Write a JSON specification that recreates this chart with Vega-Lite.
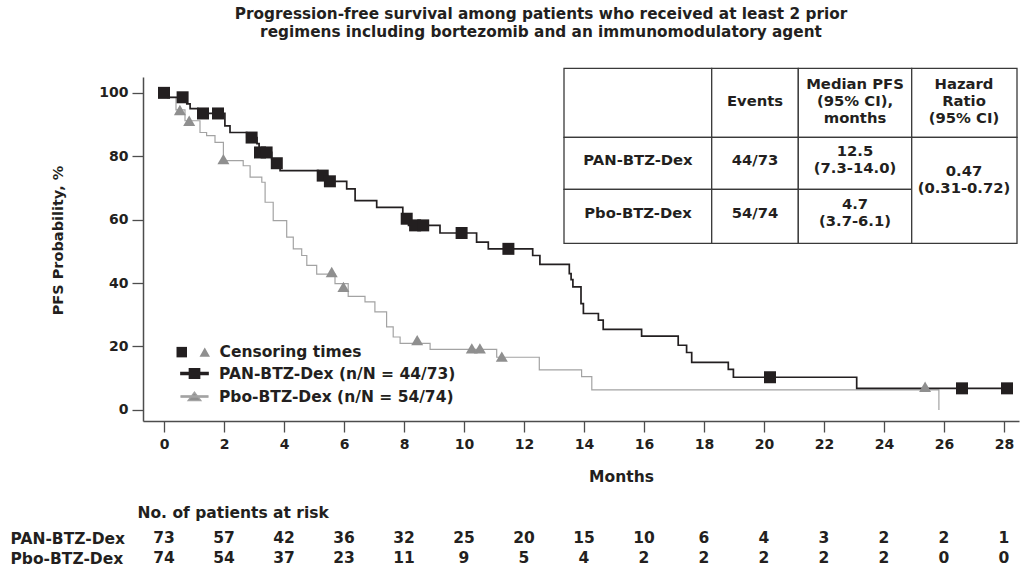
{
  "$schema": "https://vega.github.io/schema/vega-lite/v6.json",
  "width": 876,
  "height": 344,
  "autosize": {"type": "none"},
  "padding": {"left": 143, "top": 77, "right": 1, "bottom": 146},
  "background": "white",
  "config": {
    "view": {"stroke": null},
    "font": "DejaVu Sans",
    "axis": {"domainColor": "#4d4d4d", "tickColor": "#4d4d4d", "domainWidth": 1.5, "tickWidth": 1.3, "labelColor": "#231f20", "titleColor": "#231f20", "labelFontWeight": "bold", "titleFontWeight": "bold", "labelFont": "DejaVu Sans", "titleFont": "DejaVu Sans", "grid": false},
    "legend": {"labelFont": "DejaVu Sans", "labelFontWeight": "bold", "labelColor": "#231f20", "labelFontSize": 15.5, "padding": 0, "labelLimit": 400}
  },
  "title": {
    "text": ["Progression-free survival among patients who received at least 2 prior", "regimens including bortezomib and an immunomodulatory agent"],
    "frame": "group", "anchor": "middle", "dx": -40, "fontSize": 15.3, "fontWeight": "bold", "font": "DejaVu Sans", "color": "#231f20", "lineHeight": 18, "offset": 27
  },
  "datasets": {
    "km": [
      {"arm": "Pbo-BTZ-Dex", "month": 0, "pfs": 100},
      {"arm": "Pbo-BTZ-Dex", "month": 0.13, "pfs": 98.6},
      {"arm": "Pbo-BTZ-Dex", "month": 0.4, "pfs": 94.6},
      {"arm": "Pbo-BTZ-Dex", "month": 0.7, "pfs": 91.2},
      {"arm": "Pbo-BTZ-Dex", "month": 1.2, "pfs": 87.5},
      {"arm": "Pbo-BTZ-Dex", "month": 1.42, "pfs": 86.5},
      {"arm": "Pbo-BTZ-Dex", "month": 1.7, "pfs": 84.4},
      {"arm": "Pbo-BTZ-Dex", "month": 1.98, "pfs": 78.6},
      {"arm": "Pbo-BTZ-Dex", "month": 2.64, "pfs": 77.0},
      {"arm": "Pbo-BTZ-Dex", "month": 2.87, "pfs": 73.4},
      {"arm": "Pbo-BTZ-Dex", "month": 3.26, "pfs": 71.8},
      {"arm": "Pbo-BTZ-Dex", "month": 3.37, "pfs": 65.5},
      {"arm": "Pbo-BTZ-Dex", "month": 3.64, "pfs": 59.7},
      {"arm": "Pbo-BTZ-Dex", "month": 4.09, "pfs": 54.5},
      {"arm": "Pbo-BTZ-Dex", "month": 4.31, "pfs": 50.8},
      {"arm": "Pbo-BTZ-Dex", "month": 4.59, "pfs": 48.7},
      {"arm": "Pbo-BTZ-Dex", "month": 4.76, "pfs": 45.6},
      {"arm": "Pbo-BTZ-Dex", "month": 5.09, "pfs": 42.8},
      {"arm": "Pbo-BTZ-Dex", "month": 5.7, "pfs": 39.8},
      {"arm": "Pbo-BTZ-Dex", "month": 6.14, "pfs": 35.8},
      {"arm": "Pbo-BTZ-Dex", "month": 6.7, "pfs": 34.1},
      {"arm": "Pbo-BTZ-Dex", "month": 7.03, "pfs": 30.9},
      {"arm": "Pbo-BTZ-Dex", "month": 7.42, "pfs": 26.2},
      {"arm": "Pbo-BTZ-Dex", "month": 7.64, "pfs": 23.0},
      {"arm": "Pbo-BTZ-Dex", "month": 7.87, "pfs": 21.0},
      {"arm": "Pbo-BTZ-Dex", "month": 8.87, "pfs": 19.1},
      {"arm": "Pbo-BTZ-Dex", "month": 11.09, "pfs": 16.6},
      {"arm": "Pbo-BTZ-Dex", "month": 12.51, "pfs": 12.6},
      {"arm": "Pbo-BTZ-Dex", "month": 13.92, "pfs": 10.5},
      {"arm": "Pbo-BTZ-Dex", "month": 14.26, "pfs": 6.3},
      {"arm": "Pbo-BTZ-Dex", "month": 25.83, "pfs": 0},
      {"arm": "PAN-BTZ-Dex", "month": 0, "pfs": 100},
      {"arm": "PAN-BTZ-Dex", "month": 0.13, "pfs": 98.6},
      {"arm": "PAN-BTZ-Dex", "month": 0.76, "pfs": 96.5},
      {"arm": "PAN-BTZ-Dex", "month": 0.87, "pfs": 95.0},
      {"arm": "PAN-BTZ-Dex", "month": 1.13, "pfs": 93.5},
      {"arm": "PAN-BTZ-Dex", "month": 2.03, "pfs": 89.6},
      {"arm": "PAN-BTZ-Dex", "month": 2.2, "pfs": 87.5},
      {"arm": "PAN-BTZ-Dex", "month": 2.76, "pfs": 85.9},
      {"arm": "PAN-BTZ-Dex", "month": 3.1, "pfs": 84.0},
      {"arm": "PAN-BTZ-Dex", "month": 3.17, "pfs": 81.2},
      {"arm": "PAN-BTZ-Dex", "month": 3.59, "pfs": 79.2},
      {"arm": "PAN-BTZ-Dex", "month": 3.7, "pfs": 77.8},
      {"arm": "PAN-BTZ-Dex", "month": 3.87, "pfs": 75.5},
      {"arm": "PAN-BTZ-Dex", "month": 5.14, "pfs": 73.9},
      {"arm": "PAN-BTZ-Dex", "month": 5.45, "pfs": 72.1},
      {"arm": "PAN-BTZ-Dex", "month": 6.09, "pfs": 69.7},
      {"arm": "PAN-BTZ-Dex", "month": 6.37, "pfs": 66.0},
      {"arm": "PAN-BTZ-Dex", "month": 7.09, "pfs": 63.9},
      {"arm": "PAN-BTZ-Dex", "month": 7.96, "pfs": 60.3},
      {"arm": "PAN-BTZ-Dex", "month": 8.15, "pfs": 58.2},
      {"arm": "PAN-BTZ-Dex", "month": 9.2, "pfs": 55.8},
      {"arm": "PAN-BTZ-Dex", "month": 10.42, "pfs": 52.9},
      {"arm": "PAN-BTZ-Dex", "month": 10.81, "pfs": 50.8},
      {"arm": "PAN-BTZ-Dex", "month": 12.29, "pfs": 48.7},
      {"arm": "PAN-BTZ-Dex", "month": 12.53, "pfs": 45.9},
      {"arm": "PAN-BTZ-Dex", "month": 13.51, "pfs": 43.0},
      {"arm": "PAN-BTZ-Dex", "month": 13.57, "pfs": 41.1},
      {"arm": "PAN-BTZ-Dex", "month": 13.63, "pfs": 38.8},
      {"arm": "PAN-BTZ-Dex", "month": 13.9, "pfs": 33.5},
      {"arm": "PAN-BTZ-Dex", "month": 13.98, "pfs": 30.4},
      {"arm": "PAN-BTZ-Dex", "month": 14.48, "pfs": 28.3},
      {"arm": "PAN-BTZ-Dex", "month": 14.64, "pfs": 25.4},
      {"arm": "PAN-BTZ-Dex", "month": 15.92, "pfs": 23.3},
      {"arm": "PAN-BTZ-Dex", "month": 17.14, "pfs": 20.4},
      {"arm": "PAN-BTZ-Dex", "month": 17.42, "pfs": 18.1},
      {"arm": "PAN-BTZ-Dex", "month": 17.59, "pfs": 15.0},
      {"arm": "PAN-BTZ-Dex", "month": 18.81, "pfs": 12.8},
      {"arm": "PAN-BTZ-Dex", "month": 18.98, "pfs": 10.3},
      {"arm": "PAN-BTZ-Dex", "month": 23.09, "pfs": 6.8},
      {"arm": "PAN-BTZ-Dex", "month": 28.1, "pfs": 6.8}
    ],
    "censor": [
      {"carm": "PAN", "month": 0.0, "pfs": 100},
      {"carm": "PAN", "month": 0.62, "pfs": 98.6},
      {"carm": "PAN", "month": 1.3, "pfs": 93.5},
      {"carm": "PAN", "month": 1.8, "pfs": 93.5},
      {"carm": "PAN", "month": 2.92, "pfs": 85.9},
      {"carm": "PAN", "month": 3.2, "pfs": 81.2},
      {"carm": "PAN", "month": 3.42, "pfs": 81.2},
      {"carm": "PAN", "month": 3.76, "pfs": 77.8},
      {"carm": "PAN", "month": 5.29, "pfs": 73.9},
      {"carm": "PAN", "month": 5.53, "pfs": 72.1},
      {"carm": "PAN", "month": 8.09, "pfs": 60.3},
      {"carm": "PAN", "month": 8.37, "pfs": 58.2},
      {"carm": "PAN", "month": 8.64, "pfs": 58.2},
      {"carm": "PAN", "month": 9.92, "pfs": 55.8},
      {"carm": "PAN", "month": 11.48, "pfs": 50.8},
      {"carm": "PAN", "month": 20.2, "pfs": 10.3},
      {"carm": "PAN", "month": 26.6, "pfs": 6.8},
      {"carm": "PAN", "month": 28.1, "pfs": 6.8},
      {"carm": "Pbo", "month": 0.53, "pfs": 94.6},
      {"carm": "Pbo", "month": 0.84, "pfs": 91.2},
      {"carm": "Pbo", "month": 1.98, "pfs": 79.1},
      {"carm": "Pbo", "month": 5.59, "pfs": 43.5},
      {"carm": "Pbo", "month": 5.98, "pfs": 38.8},
      {"carm": "Pbo", "month": 8.44, "pfs": 22.0},
      {"carm": "Pbo", "month": 10.26, "pfs": 19.4},
      {"carm": "Pbo", "month": 10.53, "pfs": 19.4},
      {"carm": "Pbo", "month": 11.26, "pfs": 16.8},
      {"carm": "Pbo", "month": 25.37, "pfs": 7.3}
    ],
    "risk": [
      {"arm": "PAN-BTZ-Dex", "month": 0, "n": 73}, {"arm": "PAN-BTZ-Dex", "month": 2, "n": 57}, {"arm": "PAN-BTZ-Dex", "month": 4, "n": 42}, {"arm": "PAN-BTZ-Dex", "month": 6, "n": 36}, {"arm": "PAN-BTZ-Dex", "month": 8, "n": 32}, {"arm": "PAN-BTZ-Dex", "month": 10, "n": 25}, {"arm": "PAN-BTZ-Dex", "month": 12, "n": 20}, {"arm": "PAN-BTZ-Dex", "month": 14, "n": 15}, {"arm": "PAN-BTZ-Dex", "month": 16, "n": 10}, {"arm": "PAN-BTZ-Dex", "month": 18, "n": 6}, {"arm": "PAN-BTZ-Dex", "month": 20, "n": 4}, {"arm": "PAN-BTZ-Dex", "month": 22, "n": 3}, {"arm": "PAN-BTZ-Dex", "month": 24, "n": 2}, {"arm": "PAN-BTZ-Dex", "month": 26, "n": 2}, {"arm": "PAN-BTZ-Dex", "month": 28, "n": 1},
      {"arm": "Pbo-BTZ-Dex", "month": 0, "n": 74}, {"arm": "Pbo-BTZ-Dex", "month": 2, "n": 54}, {"arm": "Pbo-BTZ-Dex", "month": 4, "n": 37}, {"arm": "Pbo-BTZ-Dex", "month": 6, "n": 23}, {"arm": "Pbo-BTZ-Dex", "month": 8, "n": 11}, {"arm": "Pbo-BTZ-Dex", "month": 10, "n": 9}, {"arm": "Pbo-BTZ-Dex", "month": 12, "n": 5}, {"arm": "Pbo-BTZ-Dex", "month": 14, "n": 4}, {"arm": "Pbo-BTZ-Dex", "month": 16, "n": 2}, {"arm": "Pbo-BTZ-Dex", "month": 18, "n": 2}, {"arm": "Pbo-BTZ-Dex", "month": 20, "n": 2}, {"arm": "Pbo-BTZ-Dex", "month": 22, "n": 2}, {"arm": "Pbo-BTZ-Dex", "month": 24, "n": 2}, {"arm": "Pbo-BTZ-Dex", "month": 26, "n": 0}, {"arm": "Pbo-BTZ-Dex", "month": 28, "n": 0}
    ],
    "cells": [
      {"c0": 0, "c1": 1, "r0": 0, "r1": 1}, {"c0": 1, "c1": 2, "r0": 0, "r1": 1}, {"c0": 2, "c1": 3, "r0": 0, "r1": 1}, {"c0": 3, "c1": 4, "r0": 0, "r1": 1},
      {"c0": 0, "c1": 1, "r0": 1, "r1": 2}, {"c0": 1, "c1": 2, "r0": 1, "r1": 2}, {"c0": 2, "c1": 3, "r0": 1, "r1": 2},
      {"c0": 0, "c1": 1, "r0": 2, "r1": 3}, {"c0": 1, "c1": 2, "r0": 2, "r1": 3}, {"c0": 2, "c1": 3, "r0": 2, "r1": 3},
      {"c0": 3, "c1": 4, "r0": 1, "r1": 3}
    ],
    "tabletext": [
      {"tcol": 1, "trow": 0, "txt": "Events"},
      {"tcol": 2, "trow": 0, "txt": "Median PFS\n(95% CI),\nmonths"},
      {"tcol": 3, "trow": 0, "txt": "Hazard\nRatio\n(95% CI)"},
      {"tcol": 0, "trow": 1, "txt": "PAN-BTZ-Dex"},
      {"tcol": 1, "trow": 1, "txt": "44/73"},
      {"tcol": 2, "trow": 1, "txt": "12.5\n(7.3-14.0)"},
      {"tcol": 0, "trow": 2, "txt": "Pbo-BTZ-Dex"},
      {"tcol": 1, "trow": 2, "txt": "54/74"},
      {"tcol": 2, "trow": 2, "txt": "4.7\n(3.7-6.1)"},
      {"tcol": 3, "trow": 1.5, "txt": "0.47\n(0.31-0.72)"}
    ]
  },
  "layer": [
    {
      "layer": [
        {
          "layer": [
            {
              "data": {"name": "km"},
              "mark": {"type": "line", "interpolate": "step-after"},
              "encoding": {
                "x": {"field": "month", "type": "quantitative",
                  "scale": {"domain": [-0.7, 28.5], "nice": false, "zero": false},
                  "axis": {"values": [0, 2, 4, 6, 8, 10, 12, 14, 16, 18, 20, 22, 24, 26, 28], "title": "Months", "titleFontSize": 15.5, "titleX": 478, "titleY": 48, "titleAlign": "center", "titleBaseline": "top", "tickSize": 11, "labelPadding": 5, "labelFontSize": 14, "labelFlush": false, "labelOverlap": false}},
                "y": {"field": "pfs", "type": "quantitative",
                  "scale": {"domain": [-3.5, 105], "nice": false, "zero": false},
                  "axis": {"values": [0, 20, 40, 60, 80, 100], "title": "PFS Probability, %", "titleFontSize": 14.5, "titlePadding": 33, "titleY": 163, "tickSize": 11, "labelPadding": 4, "labelFontSize": 14}},
                "stroke": {"field": "arm", "type": "nominal",
                  "scale": {"domain": ["PAN-BTZ-Dex", "Pbo-BTZ-Dex"], "range": ["#231f20", "#a3a3a3"]},
                  "legend": {"orient": "none", "legendX": 37, "legendY": 282, "title": null, "direction": "vertical",
                    "symbolSize": 256, "labelOffset": 10, "rowPadding": 0,
                    "labelExpr": "datum.value == 'PAN-BTZ-Dex' ? 'PAN-BTZ-Dex (n/N = 44/73)' : 'Pbo-BTZ-Dex (n/N = 54/74)'",
                    "encode": {"symbols": {"update": {
                      "shape": {"signal": "datum.value == 'PAN-BTZ-Dex' ? 'M-1,-0.07H1V0.07H-1Z M-0.37,-0.35H0.37V0.35H-0.37Z' : 'M-1,-0.05H1V0.05H-1Z M0,-0.33L0.48,0.3H-0.48Z'"},
                      "fill": {"signal": "datum.value == 'PAN-BTZ-Dex' ? '#231f20' : '#8f8f8f'"},
                      "fillOpacity": {"value": 1},
                      "opacity": {"value": 1},
                      "strokeWidth": {"value": 0},
                      "size": {"value": 729}}}}}},
                "strokeWidth": {"field": "arm", "type": "nominal", "scale": {"domain": ["PAN-BTZ-Dex", "Pbo-BTZ-Dex"], "range": [1.7, 1.2]}, "legend": null}
              }
            },
            {
              "data": {"name": "censor"},
              "mark": {"type": "point", "filled": true, "opacity": 1, "size": 144},
              "encoding": {
                "x": {"field": "month", "type": "quantitative"},
                "y": {"field": "pfs", "type": "quantitative"},
                "shape": {"field": "carm", "type": "nominal",
                  "scale": {"domain": ["PAN", "Pbo"], "range": ["square", "triangle-up"]},
                  "legend": {"orient": "none", "legendX": 31, "legendY": 267, "title": null, "columns": 2, "direction": "horizontal",
                    "labelExpr": "datum.value == 'Pbo' ? 'Censoring times' : ''",
                    "symbolSize": 110, "labelOffset": 7, "columnPadding": 0, "symbolStrokeWidth": 0,
                    "encode": {"symbols": {"update": {"x": {"signal": "datum.value == 'PAN' ? 14.5 : 5.5"}}}}}},
                "color": {"field": "carm", "type": "nominal",
                  "scale": {"domain": ["PAN", "Pbo"], "range": ["#231f20", "#8f8f8f"]},
                  "legend": {"orient": "none", "legendX": 31, "legendY": 267, "title": null, "columns": 2, "direction": "horizontal",
                    "labelExpr": "datum.value == 'Pbo' ? 'Censoring times' : ''",
                    "symbolSize": 110, "labelOffset": 7, "columnPadding": 0, "symbolStrokeWidth": 0,
                    "encode": {"symbols": {"update": {"x": {"signal": "datum.value == 'PAN' ? 14.5 : 5.5"}}}}}}
              }
            }
          ]
        },
        {
          "data": {"name": "risk"},
          "mark": {"type": "text", "fontSize": 15.5, "fontWeight": "bold", "color": "#231f20", "baseline": "middle", "align": "center"},
          "encoding": {
            "x": {"field": "month", "type": "quantitative"},
            "y": {"field": "arm", "type": "nominal",
              "scale": {"type": "point", "domain": ["PAN-BTZ-Dex", "Pbo-BTZ-Dex"], "range": [461, 481], "padding": 0},
              "axis": {"orient": "left", "domain": false, "ticks": false, "tickSize": 0, "labelAlign": "left", "labelPadding": 133, "labelFontSize": 15.5, "labelBaseline": "middle",
                "title": "No. of patients at risk", "titleAngle": 0, "titleX": -6, "titleY": 435, "titleAlign": "left", "titleBaseline": "middle", "titleFontSize": 15.5}},
            "text": {"field": "n", "type": "quantitative"}
          }
        }
      ],
      "resolve": {"scale": {"y": "independent"}, "axis": {"y": "independent"}}
    },
    {
      "data": {"name": "cells"},
      "mark": {"type": "rect", "fill": "white", "stroke": "#3a3a3a", "strokeWidth": 1.3},
      "encoding": {
        "x": {"field": "c0", "type": "quantitative", "scale": {"domain": [0, 1, 2, 3, 4], "range": [421, 568.7, 655.3, 768.7, 874], "nice": false, "zero": false}, "axis": null},
        "x2": {"field": "c1"},
        "y": {"field": "r0", "type": "quantitative", "scale": {"domain": [0, 1, 2, 3], "range": [-8.7, 60.3, 112.3, 166.3], "nice": false, "zero": false}, "axis": null},
        "y2": {"field": "r1"}
      }
    },
    {
      "data": {"name": "tabletext"},
      "encoding": {
        "x": {"field": "tcol", "type": "quantitative", "scale": {"domain": [0, 1, 2, 3], "range": [495, 612, 712, 821], "nice": false, "zero": false}, "axis": null},
        "y": {"field": "trow", "type": "quantitative", "scale": {"domain": [0, 1, 1.5, 2], "range": [24.7, 83.5, 103.8, 136.5], "nice": false, "zero": false}, "axis": null},
        "text": {"field": "txt", "type": "nominal"}
      },
      "layer": [
        {
          "transform": [{"filter": "length(split(datum.txt, '\\n')) == 1"}],
          "mark": {"type": "text", "fontSize": 14.8, "fontWeight": "bold", "color": "#231f20", "baseline": "middle", "align": "center", "lineBreak": "\n", "lineHeight": 17}
        },
        {
          "transform": [{"filter": "length(split(datum.txt, '\\n')) == 2"}],
          "mark": {"type": "text", "fontSize": 14.8, "fontWeight": "bold", "color": "#231f20", "baseline": "middle", "align": "center", "lineBreak": "\n", "lineHeight": 17, "dy": -8.5}
        },
        {
          "transform": [{"filter": "length(split(datum.txt, '\\n')) == 3"}],
          "mark": {"type": "text", "fontSize": 14.8, "fontWeight": "bold", "color": "#231f20", "baseline": "middle", "align": "center", "lineBreak": "\n", "lineHeight": 17, "dy": -17}
        }
      ]
    }
  ],
  "resolve": {"scale": {"x": "independent", "y": "independent"}, "axis": {"x": "independent", "y": "independent"}}
}
